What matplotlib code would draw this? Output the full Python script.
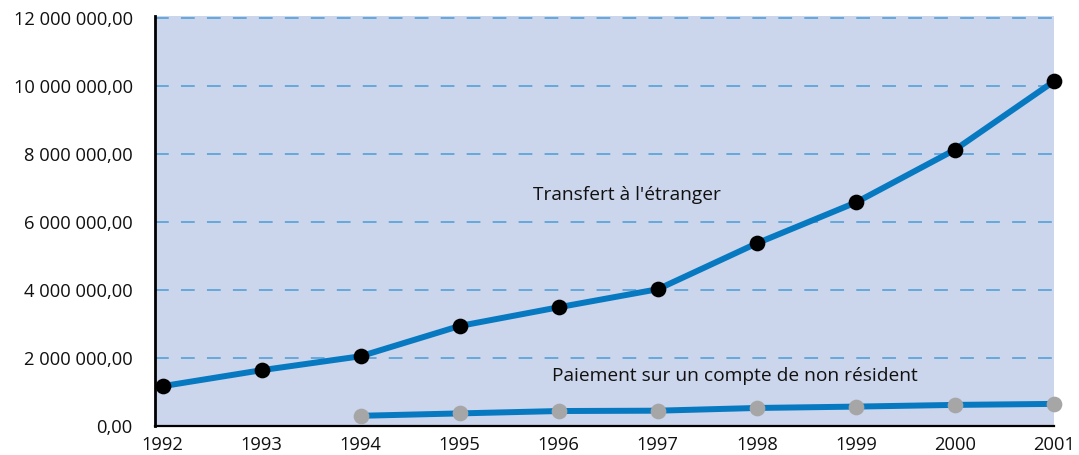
import matplotlib
matplotlib.use("Agg")
import matplotlib.pyplot as plt
from matplotlib.ticker import FuncFormatter, MultipleLocator

plt.rcParams['font.family'] = ['Open Sans', 'DejaVu Sans']

years = [1992, 1993, 1994, 1995, 1996, 1997, 1998, 1999, 2000, 2001]
transfert = [1.17e6, 1.64e6, 2.05e6, 2.94e6, 3.49e6, 4.02e6, 5.37e6, 6.57e6, 8.12e6, 10.13e6]

years_nr = [1994, 1995, 1996, 1997, 1998, 1999, 2000, 2001]
non_resident = [0.30e6, 0.37e6, 0.44e6, 0.45e6, 0.53e6, 0.57e6, 0.62e6, 0.65e6]

label_transfert = "Transfert à l'étranger"
label_nr = "Paiement sur un compte de non résident"

line_col = '#0779c1'
bg_col = '#cbd5eb'
grid_col = '#4a9cd8'

fig = plt.figure(figsize=(10.79, 4.55), dpi=100)
ax = fig.add_axes([155/1079, 29/455, (1054-155)/1079, (426-16)/455])
ax.set_facecolor(bg_col)

ax.set_xlim(1991.924, 2001.0)
ax.set_ylim(0, 12.05e6)
ax.yaxis.set_major_locator(MultipleLocator(2e6))
ax.set_xticks(years)

def fmt(v, pos):
    s = f"{v:,.2f}"
    return s.replace(",", " ").replace(".", ",")

ax.yaxis.set_major_formatter(FuncFormatter(fmt))

# dashed horizontal guides at each labelled level
for v in range(2, 13, 2):
    ax.axhline(v * 1e6, color=grid_col, lw=1.1, dashes=(9, 8), zorder=1)

ax.plot(years, transfert, color=line_col, lw=4.3, zorder=3, solid_capstyle='butt')
ax.plot(years, transfert, 'o', color='black', ms=11.3, mec='none', zorder=4, clip_on=False)

ax.plot(years_nr, non_resident, color=line_col, lw=4.3, zorder=3, solid_capstyle='butt')
ax.plot(years_nr, non_resident, 'o', color='#a6a6a6', ms=11.3, mec='none', zorder=4, clip_on=False)

ax.text(1995.74, 6.79e6, label_transfert, fontsize=13.8, va='center', ha='left', color='#111111')
ax.text(1995.93, 1.47e6, label_nr, fontsize=13.8, va='center', ha='left', color='#111111')

for s in ['top', 'right']:
    ax.spines[s].set_visible(False)
ax.spines['left'].set_linewidth(2)
ax.spines['bottom'].set_linewidth(1.6)
ax.tick_params(axis='both', length=0, labelsize=13.2, colors='#111111')
ax.tick_params(axis='y', pad=16)
ax.tick_params(axis='x', pad=7.5)

fig.savefig('out.png', dpi=100)
